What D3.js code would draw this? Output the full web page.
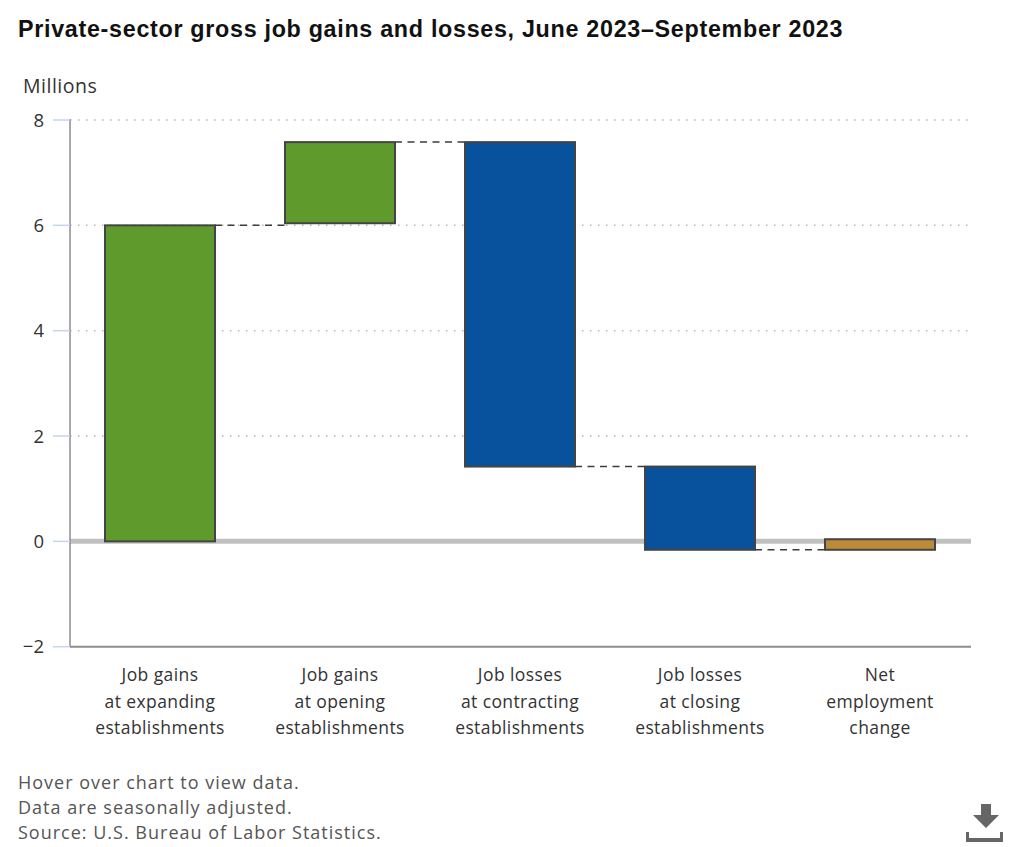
<!DOCTYPE html>
<html><head><meta charset="utf-8">
<script src="https://cdn.jsdelivr.net/npm/d3@7"></script>
<style>
html,body{margin:0;padding:0;background:#fff}
svg{display:block}
text{font-family:"Open Sans","Noto Sans",sans-serif;fill:#333}
</style></head><body>
<svg id="c" width="1024" height="847"></svg>
<script>
const categories=[["Job gains","at expanding","establishments"],["Job gains","at opening","establishments"],["Job losses","at contracting","establishments"],["Job losses","at closing","establishments"],["Net","employment","change"]];
const barLow=[0,6.04,1.42,-0.16,-0.16];
const barHigh=[6.0,7.58,7.58,1.42,0.04];
const barColors=["#5f9b2c","#5f9b2c","#08519c","#08519c","#bd8a3a"];
const connectorLevels=[6.0,7.58,1.42,-0.16];
const yTicks=[8,6,4,2,0,-2];
const titleText="Private-sector gross job gains and losses, June 2023–September 2023";
const notes=["Hover over chart to view data.","Data are seasonally adjusted.","Source: U.S. Bureau of Labor Statistics."];

const svg=d3.select("#c");
const L=70,R=971,T=120,B=646.7;
const y=d3.scaleLinear().domain([-2,8]).range([B,T]);
const x=d3.scaleBand().domain(d3.range(categories.length)).range([L,970]).paddingInner(70/180).paddingOuter(35/180);

svg.append("text").attr("x",18).attr("y",37).text(titleText)
  .style("font-family","'Liberation Sans',Arial,sans-serif").style("font-weight",700).style("font-size","23.3px").style("letter-spacing","0.7px").style("fill","#111");
svg.append("text").attr("x",23).attr("y",93).text("Millions").style("font-size","19.5px").style("letter-spacing","0.5px");

// gridlines
svg.append("g").selectAll("line").data(yTicks.filter(d=>d>0)).join("line")
  .attr("x1",L).attr("x2",R).attr("y1",d=>y(d)).attr("y2",d=>y(d))
  .attr("stroke","#b5b5b5").attr("stroke-width",1.5).attr("stroke-dasharray","1.5 6.5");
// zero line
svg.append("line").attr("x1",L).attr("x2",R).attr("y1",y(0)).attr("y2",y(0)).attr("stroke","#c0c0c0").attr("stroke-width",5);
// axes
svg.append("line").attr("x1",L).attr("x2",L).attr("y1",T-1).attr("y2",B).attr("stroke","#8c8c8c").attr("stroke-width",1.5);
svg.append("line").attr("x1",L).attr("x2",R).attr("y1",B).attr("y2",B).attr("stroke","#8c8c8c").attr("stroke-width",2);
const yg=svg.append("g").selectAll("g").data(yTicks).join("g");
yg.append("line").attr("x1",53).attr("x2",L).attr("y1",d=>y(d)).attr("y2",d=>y(d)).attr("stroke","#c6d4ec").attr("stroke-width",1.5);
yg.append("text").attr("x",44).attr("y",d=>y(d)+6.5).attr("text-anchor","end")
  .text(d=>d<0?"\u2212"+Math.abs(d):d).style("font-size","18.5px");

// connectors
svg.append("g").selectAll("line").data(connectorLevels).join("line")
  .attr("x1",(d,i)=>x(i)+x.bandwidth()).attr("x2",(d,i)=>x(i+1))
  .attr("y1",d=>y(d)).attr("y2",d=>y(d))
  .attr("stroke","#3c3c3c").attr("stroke-width",1.5).attr("stroke-dasharray","7 5.500");
// bars
svg.append("g").selectAll("rect").data(categories).join("rect")
  .attr("x",(d,i)=>x(i)).attr("width",x.bandwidth())
  .attr("y",(d,i)=>y(barHigh[i])).attr("height",(d,i)=>y(barLow[i])-y(barHigh[i]))
  .attr("fill",(d,i)=>barColors[i]).attr("stroke","#444").attr("stroke-width",2);
// category labels
const cg=svg.append("g").selectAll("text").data(categories).join("text")
  .attr("text-anchor","middle").style("font-size","17.5px").style("letter-spacing","0.4px");
cg.each(function(lines,i){
  d3.select(this).selectAll("tspan").data(lines).join("tspan")
    .attr("x",x(i)+x.bandwidth()/2).attr("y",(l,j)=>681+j*26.5).text(l=>l);
});
// notes
svg.append("g").selectAll("text").data(notes).join("text")
  .attr("x",18).attr("y",(d,i)=>788.5+i*25).text(d=>d).style("font-size","18px").style("letter-spacing","1px").style("fill","#555");
// download icon
const ic=svg.append("g").attr("fill","#666");
ic.append("path").attr("d","M981 804h10v11h8l-13 13l-13-13h8z");
ic.append("path").attr("d","M966 832h3v6h31v-6h3v10h-37z");
</script></body></html>
